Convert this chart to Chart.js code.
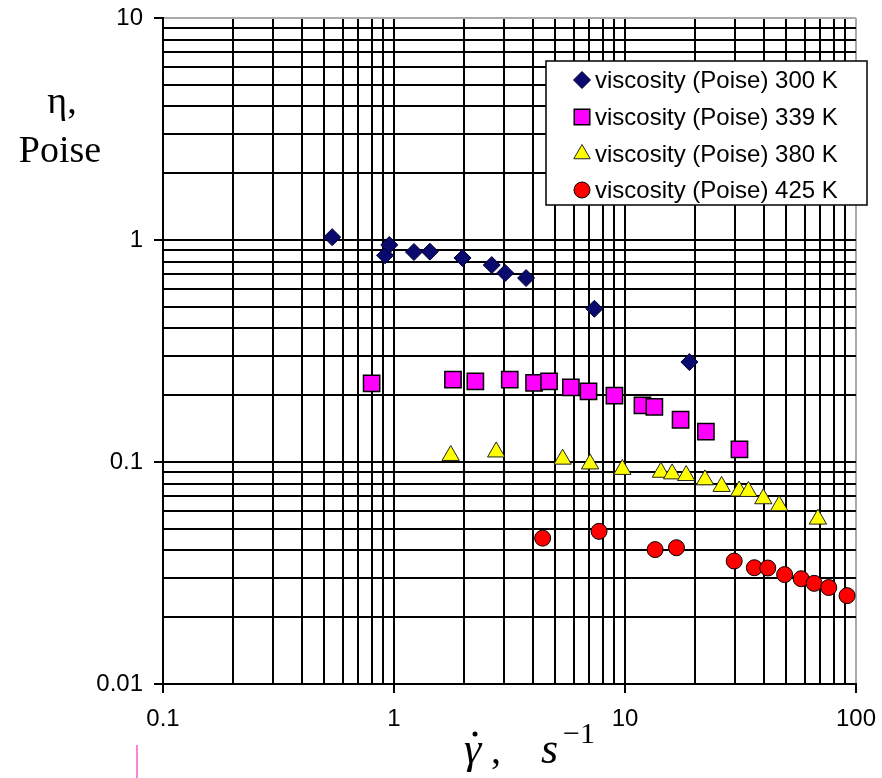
<!DOCTYPE html>
<html>
<head>
    <meta charset="UTF-8">
    <title>Viscosity vs shear rate</title>
    <script src="https://cdn.jsdelivr.net/npm/chart.js"></script>
    <style>
        body { margin: 0; background: #fff; }
        #wrap { width: 882px; height: 778px; }
    </style>
</head>
<body>
<div id="wrap"><canvas id="viscChart" width="882" height="778"></canvas></div>

<script>
    // tick labels (decades)
    const xTicks = [0.1, 1, 10, 100];
    const yTicks = [0.01, 0.1, 1, 10];

    const seriesLabels = ['viscosity (Poise) 300 K', 'viscosity (Poise) 339 K',
                          'viscosity (Poise) 380 K', 'viscosity (Poise) 425 K'];

    // shear rate (1/s) and viscosity (Poise)
    const shear300 = [0.54, 0.915, 0.954, 1.22, 1.43, 1.98, 2.65, 3.03, 3.73, 7.37, 19.0];
    const visc300  = [1.03, 0.853, 0.95, 0.883, 0.886, 0.83, 0.771, 0.71, 0.674, 0.49, 0.282];

    const shear339 = [0.80, 1.80, 2.25, 3.17, 4.04, 4.69, 5.83, 6.95, 9.0, 11.9, 13.4, 17.4, 22.4, 31.3];
    const visc339  = [0.226, 0.235, 0.231, 0.235, 0.227, 0.231, 0.217, 0.208, 0.199, 0.18, 0.177, 0.155, 0.137, 0.114];

    const shear380 = [1.76, 2.77, 5.37, 7.06, 9.74, 14.3, 16.0, 18.4, 22.2, 26.2, 31.2, 34.2, 39.7, 46.5, 68.4];
    const visc380  = [0.107, 0.111, 0.103, 0.098, 0.0926, 0.0899, 0.0884, 0.0869, 0.0831, 0.0776, 0.074, 0.0737, 0.0683, 0.0636, 0.0553];

    const shear425 = [4.40, 7.72, 13.5, 16.7, 29.7, 36.3, 41.5, 49.1, 57.9, 65.9, 76.2, 91.5];
    const visc425  = [0.0454, 0.0487, 0.0403, 0.0411, 0.0358, 0.0334, 0.0333, 0.0311, 0.0298, 0.0284, 0.0272, 0.0250];

    function pts(xs, ys) {
        return xs.map((x, i) => ({ x: x, y: ys[i] }));
    }

    // every 1..9 x 10^k between the decade ticks
    function logTicks(decades) {
        const out = [];
        for (let i = 0; i < decades.length; i++) {
            const d = decades[i];
            out.push({ value: d, major: true });
            if (i < decades.length - 1) {
                for (let m = 2; m <= 9; m++) out.push({ value: d * m, major: false });
            }
        }
        return out;
    }

    const isMajor = c => c.tick && c.tick.major;

    const datasets = [
        { label: seriesLabels[0], data: pts(shear300, visc300), pointStyle: 'rectRot', pointRadius: 8.5,
          backgroundColor: '#0a0a6e', borderColor: '#000033', borderWidth: 1 },
        { label: seriesLabels[1], data: pts(shear339, visc339), pointStyle: 'rect', pointRadius: 11.5,
          backgroundColor: '#ff00ff', borderColor: '#000000', borderWidth: 1.5 },
        { label: seriesLabels[2], data: pts(shear380, visc380), pointStyle: 'triangle', pointRadius: 10,
          backgroundColor: '#ffff00', borderColor: '#222222', borderWidth: 1 },
        { label: seriesLabels[3], data: pts(shear425, visc425), pointStyle: 'circle', pointRadius: 8,
          backgroundColor: '#ff0000', borderColor: '#000000', borderWidth: 1 }
    ];

    const extras = {
        id: 'extras',
        afterDraw(chart) {
            const ctx = chart.ctx;
            ctx.save();

            // legend box
            const bx = 546, by = 61, bw = 321, bh = 144;
            ctx.fillStyle = '#fff';
            ctx.fillRect(bx, by, bw, bh);
            ctx.strokeStyle = '#000';
            ctx.lineWidth = 1.5;
            ctx.strokeRect(bx, by, bw, bh);
            const rowY = [80, 117, 154, 190];
            ctx.font = '24px "Liberation Sans", Arial, sans-serif';
            ctx.textBaseline = 'middle';
            ctx.textAlign = 'left';
            chart.data.datasets.forEach((ds, i) => {
                ctx.fillStyle = ds.backgroundColor;
                ctx.strokeStyle = ds.borderColor;
                ctx.lineWidth = ds.borderWidth;
                let r = ds.pointRadius;
                if (ds.pointStyle === 'rect') r = 11;
                if (ds.pointStyle === 'triangle') r = 9.5;
                Chart.helpers.drawPoint(ctx, { pointStyle: ds.pointStyle, radius: r, rotation: 0, borderWidth: ds.borderWidth }, 582, rowY[i]);
                ctx.fillStyle = '#000';
                ctx.fillText(ds.label, 595, rowY[i] + 1);
            });

            // y axis title
            ctx.fillStyle = '#000';
            ctx.textAlign = 'center';
            ctx.textBaseline = 'alphabetic';
            ctx.font = '38px "Liberation Serif", "Times New Roman", serif';
            ctx.fillText('\u03B7,', 62, 113);
            ctx.fillText('Poise', 60, 162);

            // x axis title
            ctx.textAlign = 'left';
            ctx.font = 'italic 44px "Liberation Serif", "Times New Roman", serif';
            ctx.fillText('\u03B3', 464, 763);
            ctx.beginPath();
            ctx.arc(475, 734, 2.5, 0, Math.PI * 2);
            ctx.fill();
            ctx.font = '40px "Liberation Serif", "Times New Roman", serif';
            ctx.fillText(',', 491, 763);
            ctx.font = 'italic 44px "Liberation Serif", "Times New Roman", serif';
            ctx.fillText('s', 541, 763);
            ctx.font = '30px "Liberation Serif", "Times New Roman", serif';
            ctx.fillText('\u22121', 563, 743);

            // stray pink mark under the axis
            ctx.strokeStyle = '#ff55cc';
            ctx.lineWidth = 1.5;
            ctx.beginPath();
            ctx.moveTo(137, 745);
            ctx.lineTo(137, 778);
            ctx.stroke();

            ctx.restore();
        }
    };

    const tickFont = { family: '"Liberation Sans", Arial, sans-serif', size: 24 };

    new Chart(document.getElementById('viscChart').getContext('2d'), {
        type: 'scatter',
        data: { datasets: datasets },
        options: {
            responsive: false,
            animation: false,
            layout: { padding: { left: 0, right: 26, top: 18, bottom: 0 } },
            plugins: {
                legend: { display: false },
                tooltip: { enabled: false }
            },
            scales: {
                x: {
                    type: 'logarithmic',
                    min: xTicks[0],
                    max: xTicks[xTicks.length - 1],
                    afterBuildTicks: s => { s.ticks = logTicks(xTicks); },
                    afterFit: s => { s.height = 94; s.paddingLeft = 0; s.paddingRight = 0; },
                    ticks: {
                        autoSkip: false,
                        maxRotation: 0,
                        color: '#000',
                        font: tickFont,
                        padding: 12,
                        callback: v => xTicks.includes(v) ? String(v) : ''
                    },
                    grid: {
                        color: c => (c.tick && c.tick.value === 100) ? '#aaaaaa' : '#000',
                        lineWidth: 2,
                        tickLength: 9,
                        tickWidth: 2,
                        tickColor: c => isMajor(c) ? '#000' : 'rgba(0,0,0,0)'
                    },
                    border: { color: '#000', width: 2 }
                },
                y: {
                    type: 'logarithmic',
                    min: yTicks[0],
                    max: yTicks[yTicks.length - 1],
                    afterBuildTicks: s => { s.ticks = logTicks(yTicks); },
                    afterFit: s => { s.width = 163; s.paddingTop = 0; s.paddingBottom = 0; },
                    ticks: {
                        autoSkip: false,
                        color: '#000',
                        font: tickFont,
                        padding: 11,
                        callback: v => yTicks.includes(v) ? String(v) : ''
                    },
                    grid: {
                        color: c => (c.tick && c.tick.value === 10) ? '#aaaaaa' : '#000',
                        lineWidth: 2,
                        tickLength: 9,
                        tickWidth: 2,
                        tickColor: c => isMajor(c) ? '#000' : 'rgba(0,0,0,0)'
                    },
                    border: { color: '#000', width: 2 }
                }
            }
        },
        plugins: [extras]
    });
</script>
</body>
</html>
